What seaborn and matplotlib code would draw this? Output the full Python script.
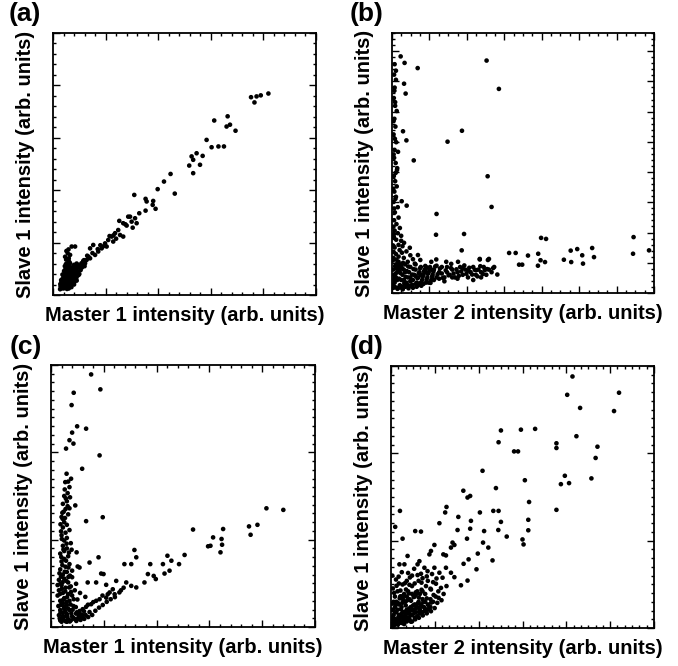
import matplotlib
matplotlib.use("Agg")
import numpy as np
import pandas as pd
import seaborn as sns
import matplotlib.pyplot as plt

# ---------------- data (arb. units, 0-100 scale of each axis) ----------------
# Panel (a): Master 1 vs Slave 1
a_x = [81.9, 79, 77.4, 75.3, 76.6, 66.4, 61.3, 67.3, 66, 69.4, 58.4, 62.9, 65, 60.3,
       54.6, 56.9, 52.7, 53.3, 55.9, 51.8, 53.3, 44.7, 42.2, 39.8, 46.3, 30.9, 35.2,
       35.6, 38.1, 37.9, 39, 35.2, 32.8, 29.3, 28.6, 31.2, 29.9, 31.8, 25.2, 26.7, 28,
       30.3, 24.8, 23.6, 25.5, 26.7, 22.3, 21, 22.9, 19.8, 20.4, 18.5, 17.2, 15.3, 14.1,
       16, 14.1, 12.8, 12.2, 10.9, 10.3, 9, 7.1, 8.4, 6.5, 5.8, 6.5, 7.7, 21.5, 24, 18,
       17, 13, 11.5, 15, 19, 23, 27.5,
       3, 3.5, 4, 4.5, 5, 5.5, 6, 6.5, 7, 7.5, 8, 8.5, 9, 4, 4.5, 5, 5.5, 6, 6.5, 7,
       3.5, 4, 5, 6, 7, 8, 9, 10, 9.5, 8, 5.5, 6, 4.5, 3.2, 3.8, 4.8, 5.8, 6.8, 7.8,
       10.5, 11, 12, 6.2, 5.2, 7.2, 8.2, 3, 2.8, 4.2, 5.2, 6.2, 7, 8, 9, 5, 6, 4.5]
a_y = [76.9, 76.2, 75.8, 75.5, 73.5, 68.2, 66.6, 65, 64.3, 62.7, 59.2, 56.7, 56.7, 56.4,
       54.1, 53.1, 52.9, 51.6, 49.7, 49.4, 46.5, 46.2, 43.3, 40.4, 38.7, 38.2, 36.7,
       35.7, 35.9, 34.4, 32.9, 32.2, 31.2, 29.9, 29.9, 29.3, 28, 27.4, 28.3, 27.4, 26.5,
       25.7, 24.8, 23.6, 22.9, 22.3, 22.3, 21, 20.4, 19.7, 18.5, 17.8, 16.6, 19.1, 17.8,
       15.3, 14, 13.4, 12.1, 11.5, 10.8, 10.2, 18.5, 18.5, 15.3, 13.4, 12.1, 10.8, 22.5,
       21.5, 19, 17.5, 15, 13, 16, 18.5, 22.8, 27,
       4, 3, 5, 3.5, 6, 4, 3, 5, 7, 4.5, 6, 8, 7, 7, 8.5, 10, 9, 8, 10, 9,
       6, 2.5, 2.8, 2.5, 3, 4, 5.5, 8, 9, 9.5, 12, 11, 11, 5, 4, 4.5, 5.5, 6, 7.5,
       9.5, 10.5, 11, 7, 7.5, 5, 5.5, 3, 4.2, 3.2, 3.5, 4, 10.5, 11.5, 12, 13.5, 14, 9.5]
a_dense_x = [2.7, 3.3, 3.9, 4.4, 4.9, 5.3, 5.7, 6.3, 6.7, 7.3, 7.7, 8.3, 8.8, 9.3, 9.7,
             3.6, 4.2, 4.7, 5.3, 5.7, 6.4, 6.9, 7.4, 7.6, 8.6, 9.8, 10.8, 11.6, 3.1, 3.6,
             4.1, 5.1, 6.1, 6.6, 7.1, 8.1, 8.9, 4.9, 5.4, 6.2, 4.6, 5.6, 5.1, 5.9, 8.7,
             9.6, 11.8, 13.5, 2.9, 3.4]
a_dense_y = [2.2, 2.6, 3.6, 4.3, 5.2, 2.3, 3.3, 4.7, 3.8, 5.8, 6.6, 7.2, 6.3, 8.3, 7.6,
             7.8, 9.1, 6.4, 8.3, 6.7, 9.2, 8.1, 9.9, 8.6, 10.3, 10.6, 12.1, 11.7, 5.7, 3.9,
             5.6, 4.1, 5.1, 6.6, 4.1, 4.9, 8.7, 11.8, 10.6, 12.6, 14.6, 15.9, 16.8, 17.4,
             11.1, 11.4, 13.3, 14.6, 3.4, 4.6]

# Panel (b): Master 2 vs Slave 1
b_x = [3.3, 4.8, 9.8, 36.1, 4.6, 5.2, 40.8, 4.2, 5.5, 26.7, 21.2, 8.3, 36.5, 3.7, 5.6,
       17, 38, 16.8, 27.5, 26.6, 56.9, 58.8, 92.2, 44.7, 47.2, 51.9, 55.8, 56.7, 58.4,
       55.7, 48.5, 49.7, 40.2, 37, 33.5, 68.2, 70.7, 72.6, 76.4, 77.1, 65.6, 68.4, 72.9,
       92, 98.1,
       9.9, 10.8, 3.5, 4.6, 6.8, 2.9, 15, 16.9, 20.7, 22.6, 25.2, 33.5, 36.6, 32.2, 29,
       35.4, 2.3, 1.9,
       1, 0.8, 1.5, 1, 0.7, 1.2, 1.8, 0.9, 1.3, 0.6, 1.6, 1, 0.8, 1.4, 2, 0.7, 1.2, 1.8,
       0.9, 1.5, 0.6, 2.2, 1.1, 2.5, 0.8, 1.7, 3, 1, 2.2, 3.5, 0.7, 1.6, 4, 2.5, 1, 5.5,
       3.8, 1.5, 7, 2.5, 0.5, 4.5, 8,
       0.5, 1, 1.5, 2, 2.5, 3, 3.5, 4, 4.5, 5, 5.5, 6, 6.5, 7, 7.5, 8, 8.5, 9, 9.5, 10,
       10.5, 11, 11.5, 12, 12.5, 13, 13.5, 14, 14.5, 15, 15.5, 16, 17, 18, 19, 20, 21,
       22, 23, 24, 25, 26, 27, 28, 29, 30, 31, 32, 33, 34, 35, 36, 37, 38, 39, 2, 4, 6,
       8, 10, 12, 14, 16, 18, 20, 1, 3, 5, 7, 9, 11, 13, 1.5, 2.5, 3.5, 4.5, 6, 0.5,
       0.8, 2, 5, 7, 9, 11, 13, 15, 17, 19, 21, 23, 25, 27, 31, 34]
b_y = [91, 88.5, 86.5, 89.4, 80.5, 76.7, 78.5, 62.2, 58.7, 62.4, 58.2, 51, 44.9, 35.3,
       33.6, 30.4, 33.1, 22.4, 22.7, 16.4, 21.2, 20.8, 21.5, 15.4, 15.4, 14.4, 15.1,
       12.6, 11.9, 10.5, 10.9, 10.9, 7.1, 13.1, 13.1, 16.3, 16.9, 14.5, 17.3, 13.8, 12.8,
       11.9, 11.3, 15.1, 16.4,
       14.6, 12.7, 20.1, 19.3, 17.4, 16.5, 12, 12.9, 12, 11.2, 12, 12.9, 12.7, 8.8, 8.6,
       8.8, 54.3, 47.3,
       88, 84, 82, 79, 75, 72, 70, 67, 64, 61, 58, 55, 52, 50, 48, 45, 43, 41, 39, 37,
       35, 33, 31, 29, 28, 26.5, 25, 24, 23, 22, 21.5, 20.5, 18, 18.5, 17.5, 16, 15.5,
       15, 14.5, 14, 13.5, 13.5, 13,
       2, 4, 6, 8, 10, 3, 5, 7, 9, 11, 4, 6, 8, 10, 3, 5, 7, 9, 4, 6, 8, 10, 5, 7, 9, 4,
       6, 8, 10, 5, 7, 9, 6, 8, 10, 6, 8, 7, 9, 6, 8, 10, 7, 9, 6, 8, 10, 7, 9, 8, 10,
       7, 9, 8, 10, 2, 2.5, 3, 2, 3, 3.5, 4, 5, 5.5, 4.5, 6, 9, 8, 6, 11, 4, 10, 11, 12,
       11, 5, 12, 9, 7, 5, 3.5, 4.5, 6.5, 7, 8, 9, 10.5, 7.5, 10, 6, 5.5, 9.5, 5, 6]
b_dense_x = [0.4, 0.9, 1.3, 1.8, 2.3, 0.3, 0.6, 0.4, 0.7, 0.5, 1.2, 1.7, 2.7, 3.2, 3.7,
             4.2, 4.7, 5.2, 5.7, 6.2, 6.7, 7.2, 7.7, 8.2, 8.7, 9.2, 9.7, 10.2, 10.7, 11.2,
             11.7, 12.2, 12.7, 13.2, 13.7, 14.2, 14.7, 15.3, 15.8, 16.5, 17.4, 18.3, 19.4,
             20.5, 21.6, 22.5, 23.5, 24.6, 25.5, 26.4, 27.6, 28.4, 29.5, 30.6, 31.6, 32.6,
             33.7, 34.7, 36.3, 38.6, 1.1, 2.1, 3.1, 4.1, 5.1, 6.3, 7.9, 9.4, 0.8, 1.3,
             0.5, 1.4, 0.6, 1.1, 0.6, 1.2, 0.9, 1.5]
b_dense_y = [3.1, 5.2, 7.3, 9.4, 11.2, 12.5, 15.8, 18.3, 22.6, 25.5, 10.3, 12.8, 5.5, 7.7,
             9.8, 11.6, 3.8, 6.2, 8.4, 10.2, 2.7, 4.8, 7.1, 9.2, 11.3, 3.6, 5.7, 7.6, 9.5,
             2.8, 6.2, 8.3, 10.4, 5.2, 7.4, 9.3, 3.9, 6.3, 8.2, 10.2, 7.2, 9.4, 5.8, 8.7,
             6.8, 9.6, 7.5, 9.1, 6.6, 8.3, 10.6, 7.4, 9.7, 7.1, 8.9, 6.4, 10.3, 7.3, 9.2,
             9.6, 2.3, 1.6, 2.1, 1.4, 2.4, 1.8, 3.1, 2.4, 32.5, 36.2, 40.1, 46.2, 53.3,
             59.3, 66.1, 73.4, 77.8, 85.5]

# Panel (c): Master 1 vs Slave 1
c_x = [15.2, 18.7, 8.6, 7.8, 9.9, 13.3, 8, 7, 8.5, 5.7, 18.4, 11.8, 5.9, 7.6, 5.4, 7,
       6.3, 9.2, 7, 19.6, 13.3, 4.4, 53.8, 81.6, 88, 75, 78.2, 75.6, 65.2, 61.4, 59.5,
       60.4, 64.6, 64.8, 64.2, 50.6, 48.5, 45.6, 44.1, 44.9, 42.4, 43, 37.6, 36.7, 38.9,
       39.7, 35.4, 31.6, 32.3, 30.4, 27.8, 24.7, 28.5, 30.4, 32.3, 18, 14.6, 19, 19.9,
       10.8, 10.1, 13.9, 17.1, 20.9, 9.7,
       23.4, 22.2, 24.1, 25.9, 20.9, 18.4, 17.1, 15.2, 13.3, 12, 10.8, 9.5, 19.5, 16, 14,
       12.5, 11, 21.5, 26.5, 27.5,
       5, 6, 4.5, 5.5, 6.5, 4, 5, 6, 4.5, 7, 5.5, 4, 6, 5, 7.5, 4.5, 6, 5, 3.5, 6.5, 5,
       4, 7, 5.5, 3.5, 6, 4.5, 8, 5, 3, 6.5, 4, 7.5, 5.5, 3, 9, 4.5, 6.5, 2.5, 8, 5, 3.5,
       7, 10, 4.5, 6, 2.8, 8.5, 5, 3.5, 7, 4.5, 6, 3, 8, 5, 4, 6.5, 3.5, 5.5, 7.5, 9,
       10.5, 12, 4, 6,
       6.5, 5.2, 7.2, 4.8, 3.8, 7.8, 3.2, 9.5, 11, 13, 8, 2.5]
c_y = [96.4, 90.7, 89.4, 84.7, 76.6, 75.7, 74.2, 71.3, 70, 68.1, 65.5, 60.4, 58.5, 56.6,
       55.3, 53.4, 51.1, 46.4, 45.3, 41.9, 40.4, 41.3, 37.2, 45.3, 44.7, 38.4, 39, 35.2,
       37.4, 34.2, 30.8, 31, 33.6, 31.4, 28.5, 27.5, 24, 25.3, 27.2, 21.5, 24, 20.4, 24,
       20.2, 19.5, 18.3, 17, 29.4, 26.6, 24, 24, 17.6, 17, 15.7, 15.1, 26.6, 24.6, 20.4,
       20.2, 22.7, 23.1, 17, 17, 16.1, 28.5,
       14.4, 13.2, 12.5, 13.2, 11.2, 10.6, 10, 8.7, 7.7, 6.8, 6.1, 5.1, 12, 9.5, 8.5, 6,
       5, 12.5, 14, 15,
       50, 48, 47, 45, 43, 42, 40, 39, 38, 37, 36, 35, 34, 33, 32, 31, 30, 29, 28, 27,
       26, 25, 24, 23, 22, 21, 20, 19, 18.5, 18, 17, 16, 15.5, 15, 14, 14, 13, 12.5, 12,
       12, 11, 10, 10, 10.5, 9, 8.5, 8, 8, 7, 6.5, 6.5, 5.5, 5, 4.5, 4, 4, 3, 3, 2.5,
       2.2, 2.5, 3, 4, 4.5, 2, 2,
       55.5, 52.5, 49.5, 44, 36.5, 29.5, 20.5, 16.5, 13, 11.5, 21.5, 16]
c_dense_x = [3.6, 5.3, 4.3, 6.3, 5.6, 4.1, 5.9, 4.7, 6.8, 3.9, 5.7, 6.6, 4.3, 5.2, 7.2,
             3.8, 5.8, 4.4, 6.9, 4.1, 5.4, 7.6, 3.4, 6.1, 8.6, 4.6, 5.9, 7.4, 3.7, 9.4,
             4.9, 6.4, 8.2, 3.6, 5.4, 7.7, 9.8, 4.4, 6.2, 8.6, 10.2, 11.6, 13.1, 14.6,
             3.3, 4.8, 7.1, 9.6, 11.2, 12.6, 14.1, 15.6, 16.8, 18.2, 19.6, 21.1, 22.6,
             24.2, 3.6, 6.6]
c_dense_y = [39.2, 41.6, 43.6, 46.1, 49.1, 33.6, 31.8, 29.6, 28.4, 26.7, 25.3, 22.7, 23.6,
             21.1, 19.6, 19.2, 17.6, 17.1, 15.1, 14.6, 13.6, 13.4, 12.6, 11.4, 10.6, 10.4,
             9.6, 8.6, 8.4, 7.6, 7.8, 7.1, 6.6, 5.6, 5.9, 5.2, 5.6, 4.2, 4.1, 3.4, 3.2,
             3.6, 4.6, 5.7, 3.3, 2.8, 2.1, 2.3, 2.7, 3.1, 3.8, 4.6, 6.2, 7.4, 8.4, 9.6,
             10.6, 11.4, 16.6, 19.1]

# Panel (d): Master 2 vs Slave 1
d_x = [69, 67, 86.7, 71.9, 84.8, 70.5, 41.8, 49.4, 54.8, 40.9, 46.8, 48.3, 62.9, 62.9,
       78.5, 77.8, 34.8, 50.9, 66.1, 64.6, 67.7, 76.2, 39.9, 27.5, 30.1, 29.1, 62.9,
       52.5, 3.4, 21.1, 20.6, 25.6, 38.9, 40.9, 33.8, 30.4, 41.8, 52.2, 52.2, 18.4, 9.2,
       11.4, 25.3, 30.1, 35.4, 35, 40.8, 44, 50, 50.4, 4.4, 1.6, 28.9, 37, 38.6, 33,
       29.5, 27.6, 32.5, 29.1, 26.6, 24.1, 23.4, 22.8, 20.9, 19.9, 16.5, 15.2, 14.6,
       10.8, 10.1, 6.3, 5.1, 3.2, 11.4, 12.7, 13.9, 16.5, 18.4, 19.6, 20.9, 22.8, 24.1,
       18.1, 21.1, 19, 17.1, 13.3, 15.2, 12, 9.5, 8, 5.7, 4.4, 1.9, 3.8,
       0.5, 1, 1.5, 2, 2.5, 3, 3.5, 4, 4.5, 5, 5.5, 6, 6.5, 7, 7.5, 8, 8.5, 9, 9.5, 10,
       10.5, 11, 11.5, 12, 12.5, 13, 14, 15, 16, 17, 1, 1.5, 2, 2.5, 3, 3.5, 4, 4.5, 5,
       5.5, 6, 6.5, 7, 8, 9, 10, 11, 0.8, 2, 3, 4, 5, 6, 7, 8, 9, 10, 11, 12, 13, 14,
       15, 0.5, 1, 1.5, 2.5, 3, 0.5, 6, 7, 9, 10.5, 12, 14, 8, 6.5, 16, 13, 15, 18, 20]
d_y = [96, 89, 89.8, 84, 82.8, 73.2, 75.4, 75.7, 76, 70.9, 67.4, 67.4, 70.5, 68.7,
       69.2, 64.9, 60, 56.4, 58.1, 54.9, 55.3, 57.1, 53.4, 52.4, 50.4, 49.8, 45.1,
       48.1, 44.7, 46.2, 44.1, 42.4, 44.7, 44.7, 44.1, 40.9, 40.5, 41.3, 37.3, 40, 37,
       36.8, 37.4, 37.9, 37, 32.6, 37.4, 34.9, 33.8, 31.9, 34.1, 38.6, 34.1, 30.7, 25.8,
       28.4, 26.2, 24.5, 22.4, 18.1, 16.3, 31.7, 32.6, 30.7, 27.7, 28.1, 31.7, 29.4,
       28.1, 25.5, 24.3, 27.5, 24.3, 24.3, 20.7, 23, 21.7, 23, 21.1, 19.2, 23, 21.1,
       19.4, 11.5, 16, 15.3, 16.9, 16, 14.7, 14, 12.8, 16, 14.7, 16.6, 18.5, 12.1,
       1, 2, 3.5, 1.5, 3, 5, 2.5, 4, 6, 3, 5, 7, 4, 6, 8, 5, 7, 9, 6, 8, 10, 7, 9, 11,
       8, 10, 9, 11, 10, 12, 5, 8, 10, 7, 9, 12, 8, 11, 13, 10, 12, 14, 11, 13, 12, 14,
       13, 3, 6, 1.8, 2, 1.5, 2.5, 3.5, 2.5, 4, 4.5, 5.5, 6, 6.5, 7, 8, 7, 10, 12, 14,
       17, 20, 18, 16.5, 17, 18, 19, 18, 20, 21, 17.5, 13, 15, 14, 13]
d_dense_x = [0.3, 0.9, 1.6, 2.3, 2.8, 3.4, 3.9, 4.6, 5.2, 5.8, 6.3, 6.9, 7.4, 7.9, 8.4,
             8.9, 9.6, 10.2, 10.8, 11.4, 12.3, 12.9, 13.6, 14.4, 15.3, 16.2, 0.6, 1.3,
             1.8, 2.6, 3.3, 3.8, 4.3, 4.9, 5.6, 6.2, 6.8, 7.6, 8.6, 9.4, 10.6, 11.6, 1.2,
             2.1, 2.9, 4.1, 7.2, 8.8, 10.1, 11.6, 13.6, 15.6, 17.3, 5.3, 3.6, 1.1, 2.6,
             4.3, 6.1, 7.6, 9.2, 10.6, 12.1, 13.6, 15.2, 16.6, 17.6, 19.2, 0.4, 0.7]
d_dense_y = [0.6, 1.4, 2.2, 2.6, 4.1, 3.6, 5.3, 4.4, 6.2, 3.9, 5.6, 7.4, 4.8, 6.9, 8.6,
             5.8, 7.6, 9.4, 6.4, 8.2, 9.9, 7.4, 11.3, 8.3, 9.7, 12.6, 4.1, 6.4, 8.8, 9.6,
             11.3, 7.1, 9.6, 12.3, 8.6, 10.6, 13.2, 10.4, 11.8, 13.6, 11.6, 14.6, 13.4,
             16.1, 19.6, 21.3, 19.3, 22.6, 20.2, 17.3, 19.7, 20.6, 18.9, 17.1, 14.3, 0.9,
             1.3, 1.9, 2.9, 2.4, 3.3, 3.9, 4.8, 5.6, 6.4, 7.6, 9.6, 10.6, 9.3, 15.1]

x_labels = ["Master 1 intensity (arb. units)", "Master 2 intensity (arb. units)",
            "Master 1 intensity (arb. units)", "Master 2 intensity (arb. units)"]
y_label = "Slave 1 intensity (arb. units)"
panel_tags = ["(a)", "(b)", "(c)", "(d)"]

# ---------------- style ----------------
sns.set_theme(style="white")
plt.rcParams["font.family"] = ["Liberation Sans", "DejaVu Sans"]

W, H = 678, 666
fig = plt.figure(figsize=(W / 100, H / 100), dpi=100)

# axes rectangles in pixels: (left, top, right, bottom)
rects_px = [(53, 33, 316, 295), (392, 33, 654, 293), (51, 365, 315, 627), (391, 366, 654, 628)]
# (n_major_x, n_minor_per_x, n_major_y, n_minor_per_y)
tick_spec = [(5, 5, 5, 5), (7, 4, 8.6, 5), (5, 5, 3, 10), (6, 6, 3, 10)]
tag_pos = [(9, 2), (350, 2), (10, 335), (350, 335)]

data = [(a_x + a_dense_x, a_y + a_dense_y),
        (b_x + b_dense_x, b_y + b_dense_y),
        (c_x + c_dense_x, c_y + c_dense_y),
        (d_x + d_dense_x, d_y + d_dense_y)]

for i, ((xs, ys), (l, t, r, b)) in enumerate(zip(data, rects_px)):
    ax = fig.add_axes([l / W, 1 - b / H, (r - l) / W, (b - t) / H])
    df = pd.DataFrame({"x": xs, "y": ys})
    sns.scatterplot(data=df, x="x", y="y", ax=ax, color="black", s=11,
                    linewidth=0, edgecolor="none")
    ax.set_xlim(0, 100)
    ax.set_ylim(0, 100)
    nx, mx, ny, my = tick_spec[i]
    step_x = 100 / nx
    step_y = 100 / ny
    ax.set_xticks(np.arange(0, 100.01, step_x))
    ax.set_xticks(np.arange(0, 100.01, step_x / mx), minor=True)
    ax.set_yticks(np.arange(0, 100.01, step_y))
    ax.set_yticks(np.arange(0, 100.01, step_y / my), minor=True)
    ax.tick_params(which="both", direction="in", top=True, right=True,
                   bottom=True, left=True, labelbottom=False, labelleft=False,
                   color="black", width=1.0)
    ax.tick_params(which="major", length=5)
    ax.tick_params(which="minor", length=2.5)
    for sp in ax.spines.values():
        sp.set_color("black")
        sp.set_linewidth(1.3)
    ax.set_xlabel(x_labels[i], fontsize=14.5, fontweight="bold", labelpad=8, color="black")
    ax.set_ylabel(y_label, fontsize=14.5, fontweight="bold", labelpad=13, color="black")
    fig.text(tag_pos[i][0] / W, 1 - tag_pos[i][1] / H, panel_tags[i], fontsize=19,
             fontweight="bold", ha="left", va="top", color="black")

fig.savefig("out.png", dpi=100, facecolor="white")
